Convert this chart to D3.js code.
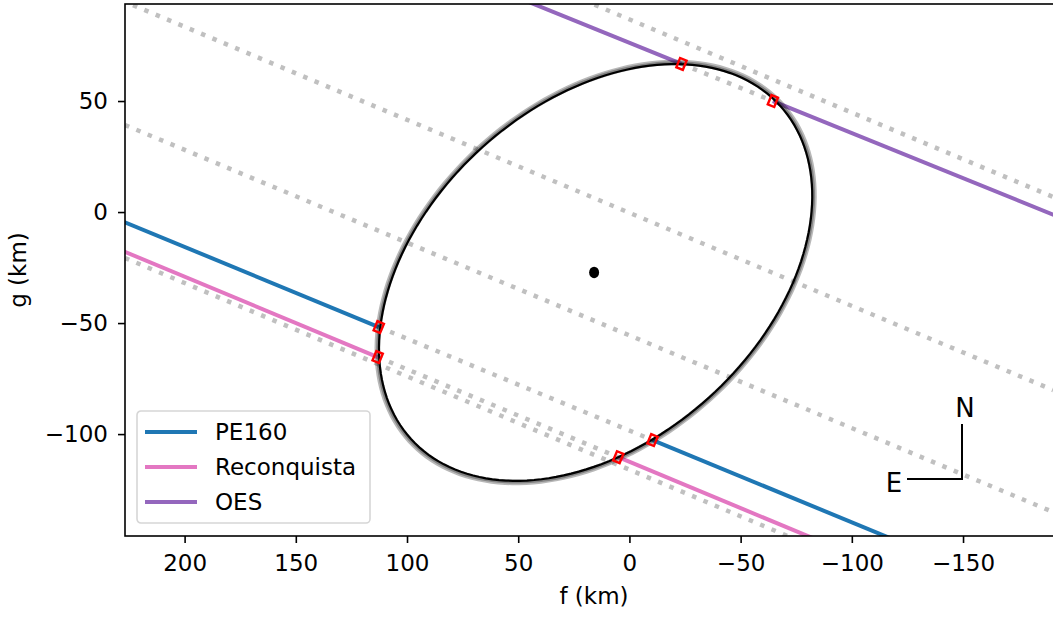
<!DOCTYPE html>
<html>
<head>
<meta charset="utf-8">
<script src="https://cdn.jsdelivr.net/npm/d3@7"></script>
<style>
  body { margin: 0; background: #fff; }
  text { font-family: "DejaVu Sans", sans-serif; }
</style>
</head>
<body>
<div id="chart"></div>
<script>
// ellipse fit (km): centre, semi-axes, angle of major axis from +f towards +g (deg)
var ellipseCenter = [15.2, -27.2];
var ellipseAxes = [111.9, 76.0];
var ellipseAngle = 137.9;
// spread of fits drawn in grey behind the best one: [extra major km, extra minor km]
var ellipseSpread = [[1.2, 1.0], [0.4, 0.3]];

// positive chords: immersion / emersion points on the limb (f, g in km)
var chordNames = ["PE160", "Reconquista", "OES"];
var chordColors = ["#1f77b4", "#e377c2", "#9467bd"];
var chordImm = [[112.7, -51.8], [113.2, -65.3], [-23.4, 66.7]];
var chordEme = [[-10.4, -102.7], [5.0, -110.4], [-64.5, 50.0]];

// other (negative / path) lines, two points each
var pathStart = [[223.2, 93.2], [226.8, 39.2], [20.8, 95.5], [226.8, -20.7]];
var pathEnd = [[-190.5, -80.2], [-190.5, -135.1], [-190.5, 6.8], [-72.3, -146.4]];

var xTicks = [200, 150, 100, 50, 0, -50, -100, -150];
var yTicks = [50, 0, -50, -100];

var W = 1053, H = 617;
var margin = { top: 4, left: 125, right: -3, bottom: 81 };
var width = W - margin.left - margin.right, height = H - margin.top - margin.bottom;

var svg = d3.select("#chart").append("svg")
    .attr("width", W).attr("height", H);

var x = d3.scaleLinear().domain([226.8, -191.8]).range([0, width]);
var y = d3.scaleLinear().domain([93.7, -145.9]).range([0, height]);

var g = svg.append("g").attr("transform", "translate(" + margin.left + "," + margin.top + ")");

g.append("clipPath").attr("id", "clip")
    .append("rect").attr("width", width).attr("height", height);

var plot = g.append("g").attr("clip-path", "url(#clip)");

var line = d3.line().x(function (d) { return x(d[0]); }).y(function (d) { return y(d[1]); });

function dotted(a, b) {
    plot.append("path")
        .attr("d", line([a, b]))
        .attr("fill", "none")
        .attr("stroke", "#999").attr("stroke-opacity", 0.62)
        .attr("stroke-width", 4.5)
        .attr("stroke-dasharray", "4.5,7.8");
}
// grey dotted lines
pathStart.forEach(function (p, i) { dotted(p, pathEnd[i]); });
// chord parts inside the body, dotted
chordImm.forEach(function (p, i) { dotted(p, chordEme[i]); });

// coloured lines outside the body
function extend(a, b, len) {
    var df = b[0] - a[0], dg = b[1] - a[1], n = Math.sqrt(df * df + dg * dg);
    return [b[0] + df / n * len, b[1] + dg / n * len];
}
chordImm.forEach(function (p, i) {
    var q = chordEme[i];
    plot.append("path").attr("d", line([extend(q, p, 500), p]))
        .attr("fill", "none").attr("stroke", chordColors[i]).attr("stroke-width", 4);
    plot.append("path").attr("d", line([q, extend(p, q, 500)]))
        .attr("fill", "none").attr("stroke", chordColors[i]).attr("stroke-width", 4);
});

// ellipse
function ellipsePts(da, db) {
    var phi = ellipseAngle * Math.PI / 180, a = ellipseAxes[0] + da, b = ellipseAxes[1] + db;
    return d3.range(0, 361, 2).map(function (t) {
        t = t * Math.PI / 180;
        return [ellipseCenter[0] + a * Math.cos(t) * Math.cos(phi) - b * Math.sin(t) * Math.sin(phi),
                ellipseCenter[1] + a * Math.cos(t) * Math.sin(phi) + b * Math.sin(t) * Math.cos(phi)];
    });
}
var limbLine = d3.line().x(function (d) { return x(d[0]); }).y(function (d) { return y(d[1]); })
    .curve(d3.curveLinearClosed);
ellipseSpread.forEach(function (s) {
    plot.append("path").attr("d", limbLine(ellipsePts(s[0], s[1])))
        .attr("fill", "none").attr("stroke", "#000").attr("stroke-opacity", 0.28).attr("stroke-width", 4);
});
plot.append("path").attr("d", limbLine(ellipsePts(0, 0)))
    .attr("fill", "none").attr("stroke", "#000").attr("stroke-width", 2.2);

plot.append("ellipse")
    .attr("cx", x(ellipseCenter[0]) - 1.5).attr("cy", y(ellipseCenter[1]))
    .attr("rx", 5).attr("ry", 5.8).attr("fill", "#000");

// red markers at contact points, oriented along the chord
chordImm.forEach(function (p, i) {
    var q = chordEme[i];
    var ang = Math.atan2(y(q[1]) - y(p[1]), x(q[0]) - x(p[0])) * 180 / Math.PI;
    [p, q].forEach(function (c) {
        plot.append("rect")
            .attr("x", -3.5).attr("y", -5).attr("width", 7).attr("height", 10)
            .attr("transform", "translate(" + x(c[0]) + "," + y(c[1]) + ") rotate(" + ang + ")")
            .attr("fill", "none").attr("stroke", "#ff0000").attr("stroke-width", 2.4);
    });
});

// axes
var fmt = function (d) { return d < 0 ? "\u2212" + Math.abs(d) : d; };
var xAxis = g.append("g").attr("transform", "translate(0," + height + ")")
    .call(d3.axisBottom(x).tickValues(xTicks).tickFormat(fmt).tickSize(7).tickPadding(12));
var yAxis = g.append("g")
    .call(d3.axisLeft(y).tickValues(yTicks).tickFormat(fmt).tickSize(7).tickPadding(10));
[xAxis, yAxis].forEach(function (a) {
    a.select(".domain").remove();
    a.selectAll("line").attr("stroke", "#000").attr("stroke-width", 1.6);
    a.selectAll("text").attr("font-size", 23).attr("fill", "#000")
        .style("font-family", "DejaVu Sans");
});

g.append("rect").attr("width", width).attr("height", height)
    .attr("fill", "none").attr("stroke", "#000").attr("stroke-width", 1.6);

svg.append("text").attr("x", 594).attr("y", 604).attr("text-anchor", "middle")
    .attr("font-size", 23).text("f (km)");
svg.append("text").attr("transform", "translate(26,270) rotate(-90)").attr("text-anchor", "middle")
    .attr("font-size", 23).text("g (km)");

// compass
var comp = svg.append("g");
comp.append("path").attr("d", "M962,424V479H907").attr("fill", "none").attr("stroke", "#000").attr("stroke-width", 2);
comp.append("text").attr("x", 965).attr("y", 417).attr("text-anchor", "middle").attr("font-size", 26).text("N");
comp.append("text").attr("x", 894).attr("y", 492).attr("text-anchor", "middle").attr("font-size", 26).text("E");

// legend
var leg = svg.append("g").attr("transform", "translate(137,411)");
leg.append("rect").attr("width", 233).attr("height", 112).attr("rx", 4)
    .attr("fill", "#fff").attr("fill-opacity", 0.8).attr("stroke", "#d6d6d6").attr("stroke-width", 1.6);
chordNames.forEach(function (n, i) {
    var yy = 21 + i * 35;
    leg.append("line").attr("x1", 8).attr("x2", 60).attr("y1", yy).attr("y2", yy)
        .attr("stroke", chordColors[i]).attr("stroke-width", 4);
    leg.append("text").attr("x", 78).attr("y", yy + 8).attr("font-size", 23).text(n);
});
</script>
</body>
</html>
